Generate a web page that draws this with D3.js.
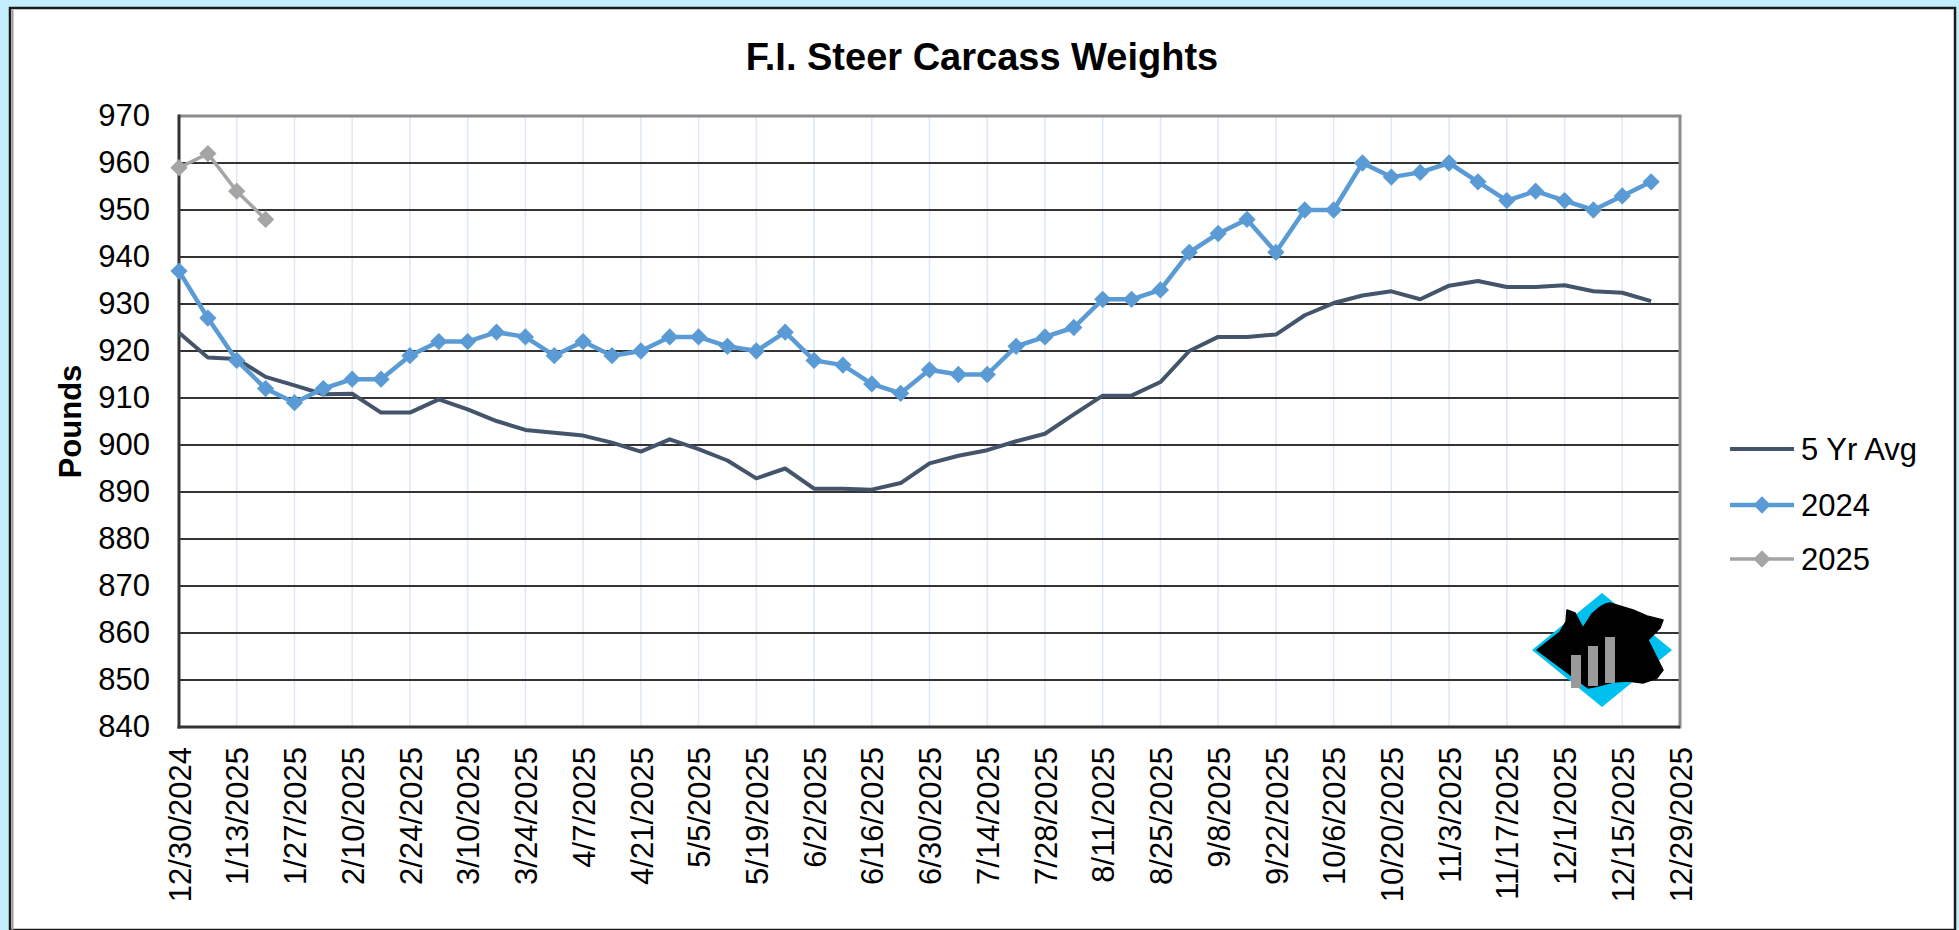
<!DOCTYPE html>
<html>
<head>
<meta charset="utf-8">
<script src="https://cdn.jsdelivr.net/npm/d3@7"></script>
<style>
  html, body { margin: 0; padding: 0; background: #c2effb; }
  text { font-family: "Liberation Sans", Arial, sans-serif; fill: #000; }
</style>
</head>
<body>
<script>
let width = 1959
let height = 930

// weekly data starting 12/30/2024
let startDate = new Date(Date.UTC(2024, 11, 30))

let avg5yr = [923.9, 918.6, 918.3, 914.5, 912.7, 910.8, 910.9, 906.9, 906.9, 909.7,
  907.6, 905.1, 903.2, 902.6, 902.0, 900.5, 898.6, 901.2, 899.1, 896.7,
  892.9, 895.0, 890.7, 890.7, 890.5, 891.9, 896.1, 897.7, 898.9, 900.8,
  902.4, 906.5, 910.5, 910.5, 913.4, 920.0, 923.0, 923.0, 923.5, 927.6,
  930.2, 931.8, 932.7, 931.0, 933.9, 934.9, 933.6, 933.6, 934.0, 932.7,
  932.4, 930.6]

let y2024 = [937, 927, 918, 912, 909, 912, 914, 914, 919, 922,
  922, 924, 923, 919, 922, 919, 920, 923, 923, 921,
  920, 924, 918, 917, 913, 911, 916, 915, 915, 921,
  923, 925, 931, 931, 933, 941, 945, 948, 941, 950,
  950, 960, 957, 958, 960, 956, 952, 954, 952, 950,
  953, 956]

let y2025 = [959, 962, 954, 948]

let xTickLabels = ["12/30/2024", "1/13/2025", "1/27/2025", "2/10/2025", "2/24/2025",
  "3/10/2025", "3/24/2025", "4/7/2025", "4/21/2025", "5/5/2025", "5/19/2025",
  "6/2/2025", "6/16/2025", "6/30/2025", "7/14/2025", "7/28/2025", "8/11/2025",
  "8/25/2025", "9/8/2025", "9/22/2025", "10/6/2025", "10/20/2025", "11/3/2025",
  "11/17/2025", "12/1/2025", "12/15/2025", "12/29/2025"]

let yTicks = [840, 850, 860, 870, 880, 890, 900, 910, 920, 930, 940, 950, 960, 970]

let seriesNames = ["5 Yr Avg", "2024", "2025"]
let seriesColors = ["#44546a", "#5b9bd5", "#a5a5a5"]

let plotLeft = 179
let plotRight = 1680
let plotTop = 116
let plotBottom = 727

let parseDate = d3.utcParse("%m/%d/%Y")
let weekDate = i => d3.utcDay.offset(startDate, 7 * i)

let x = d3.scaleUtc()
  .domain([parseDate(xTickLabels[0]), parseDate(xTickLabels[xTickLabels.length - 1])])
  .range([plotLeft, plotRight])

let y = d3.scaleLinear()
  .domain([840, 970])
  .range([plotBottom, plotTop])

let svg = d3.select("body")
  .append("svg")
  .attr("width", width)
  .attr("height", height)
  .style("display", "block")

// outer panel
svg.append("rect")
  .attr("x", 0).attr("y", 0)
  .attr("width", width).attr("height", height)
  .attr("fill", "#c2effb")

svg.append("rect")
  .attr("x", 10).attr("y", 8)
  .attr("width", 1945).attr("height", 922)
  .attr("fill", "#ffffff")
  .attr("stroke", "#1a1a1a")
  .attr("stroke-width", 2.5)

svg.append("line")
  .attr("x1", 12.5).attr("x2", 12.5)
  .attr("y1", 10).attr("y2", 930)
  .attr("stroke", "#9a9a9a")
  .attr("stroke-width", 2)

// title
svg.append("text")
  .attr("x", 982)
  .attr("y", 70)
  .attr("text-anchor", "middle")
  .style("font-size", "38px")
  .style("font-weight", "bold")
  .text("F.I. Steer Carcass Weights")

// vertical gridlines
svg.append("g")
  .selectAll("line")
  .data(xTickLabels.slice(1, -1))
  .join("line")
  .attr("x1", d => x(parseDate(d)))
  .attr("x2", d => x(parseDate(d)))
  .attr("y1", plotTop)
  .attr("y2", plotBottom)
  .attr("stroke", "#dce8f5")
  .attr("stroke-width", 1.5)

// horizontal gridlines
svg.append("g")
  .selectAll("line")
  .data(yTicks.slice(1, -1))
  .join("line")
  .attr("x1", plotLeft)
  .attr("x2", plotRight)
  .attr("y1", d => y(d))
  .attr("y2", d => y(d))
  .attr("stroke", "#333333")
  .attr("stroke-width", 2)

// plot frame
svg.append("line")
  .attr("x1", plotLeft).attr("x2", plotRight + 1.5)
  .attr("y1", plotTop).attr("y2", plotTop)
  .attr("stroke", "#8c8c8c").attr("stroke-width", 3)
svg.append("line")
  .attr("x1", plotRight).attr("x2", plotRight)
  .attr("y1", plotTop).attr("y2", plotBottom + 1.5)
  .attr("stroke", "#8c8c8c").attr("stroke-width", 3)
svg.append("line")
  .attr("x1", plotLeft).attr("x2", plotLeft)
  .attr("y1", plotTop - 1.5).attr("y2", plotBottom + 1.5)
  .attr("stroke", "#333333").attr("stroke-width", 3)
svg.append("line")
  .attr("x1", plotLeft - 1.5).attr("x2", plotRight)
  .attr("y1", plotBottom).attr("y2", plotBottom)
  .attr("stroke", "#333333").attr("stroke-width", 3)

// axes
let yAxis = svg.append("g")
  .attr("transform", "translate(" + plotLeft + ",0)")
  .call(d3.axisLeft(y).tickValues(yTicks).tickSize(0).tickPadding(29))
yAxis.select(".domain").remove()
yAxis.selectAll("text")
  .style("font-size", "31px")
  .style("font-family", "'Liberation Sans', Arial, sans-serif")
  .attr("fill", "#000")

let xAxis = svg.append("g")
  .attr("transform", "translate(0," + plotBottom + ")")
  .call(d3.axisBottom(x)
    .tickValues(xTickLabels.map(parseDate))
    .tickFormat((d, i) => xTickLabels[i])
    .tickSize(0))
xAxis.select(".domain").remove()
xAxis.selectAll("text")
  .attr("transform", "rotate(-90)")
  .attr("x", -20)
  .attr("y", 0)
  .attr("dy", "0.36em")
  .attr("text-anchor", "end")
  .style("font-size", "31px")
  .style("font-family", "'Liberation Sans', Arial, sans-serif")
  .attr("fill", "#000")

svg.append("text")
  .attr("transform", "translate(70," + ((plotTop + plotBottom) / 2) + ") rotate(-90)")
  .attr("text-anchor", "middle")
  .attr("dy", "0.35em")
  .style("font-size", "31px")
  .style("font-weight", "bold")
  .text("Pounds")

// logo (decoration)
let logo = svg.append("g").attr("transform", "translate(1602,650)")
logo.append("path")
  .attr("d", "M0,-57 L70,0 L0,57 L-70,0 Z")
  .attr("fill", "#00c0f0")
logo.append("path")
  .attr("d", "M-65,0 L-42,-18 L-36,-28 L-35,-40 L-27,-37 L-19,-22 L-10,-36 Q0,-46 8,-47 L31,-40 L45,-34 L61,-30 L58,-22 L46,-10 L52,2 L61,20 L55,28 L41,33 L26,31 L11,32 L-4,36 L-14,38 Z")
  .attr("fill", "#000")
  .attr("stroke", "#000")
  .attr("stroke-width", 1.5)
  .attr("stroke-linejoin", "round")
let barsLogo = [[-31, 5, 38], [-14, -4, 36], [3, -13, 33]]
barsLogo.forEach(b => {
  logo.append("rect")
    .attr("x", b[0]).attr("y", b[1])
    .attr("width", 10).attr("height", b[2] - b[1])
    .attr("fill", "#9a9a9a")
})

// series
let line = d3.line()
  .x((d, i) => x(weekDate(i)))
  .y(d => y(d))

let diamond = d3.symbol().type(d3.symbolDiamond2).size(190)

let allSeries = [avg5yr, y2024, y2025]
let lineWidths = [4, 4.5, 3.5]

allSeries.forEach((s, k) => {
  svg.append("path")
    .datum(s)
    .attr("d", line)
    .attr("fill", "none")
    .attr("stroke", seriesColors[k])
    .attr("stroke-width", lineWidths[k])
    .attr("stroke-linejoin", "round")

  if (k > 0) {
    svg.append("g")
      .selectAll("path")
      .data(s)
      .join("path")
      .attr("transform", (d, i) => "translate(" + x(weekDate(i)) + "," + y(d) + ")")
      .attr("d", diamond)
      .attr("fill", seriesColors[k])
  }
})

// legend
let legendY = [449, 505, 559]
let legend = svg.append("g")
seriesNames.forEach((name, k) => {
  legend.append("line")
    .attr("x1", 1730).attr("x2", 1794)
    .attr("y1", legendY[k]).attr("y2", legendY[k])
    .attr("stroke", seriesColors[k])
    .attr("stroke-width", lineWidths[k])
  if (k > 0) {
    legend.append("path")
      .attr("transform", "translate(1762," + legendY[k] + ")")
      .attr("d", diamond)
      .attr("fill", seriesColors[k])
  }
  legend.append("text")
    .attr("x", 1801)
    .attr("y", legendY[k])
    .attr("dy", "0.36em")
    .style("font-size", "31px")
    .text(name)
})
</script>
</body>
</html>
